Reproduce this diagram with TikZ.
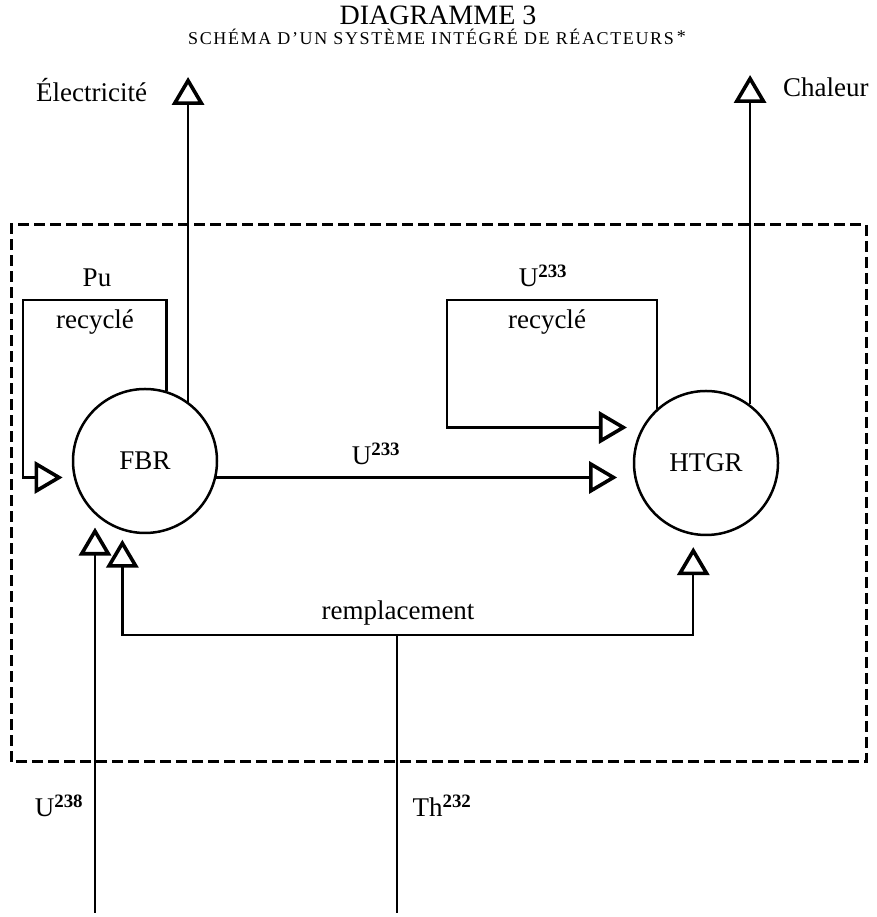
\documentclass[tikz,border=0pt]{standalone}
\usepackage{fontspec}
\setmainfont{Liberation Serif}
\usetikzlibrary{arrows.meta,positioning}

\begin{document}
\begin{tikzpicture}[x=1pt,y=1pt,line width=2.3pt,
 flow/.style={-{Triangle[open,length=28pt,width=32pt,line width=3.6pt]}},
 frame/.style={line width=3pt,dash pattern=on 11pt off 5pt},
 reactor/.style={circle,draw,line width=2.5pt,minimum size=144pt,inner sep=0pt,font=\fontsize{27}{30}\selectfont},
 lab/.style={font=\fontsize{27}{30}\selectfont,inner sep=0pt}]
\useasboundingbox (0,0) rectangle (876,917);
% titles
\node[anchor=base,font=\fontsize{28}{32}\selectfont] (title) at (438,892) {DIAGRAMME 3};
\node[anchor=base,font=\fontsize{18}{21}\selectfont] (subtitle) at (437,872)
 {\addfontfeatures{LetterSpace=9}SCHÉMA D’UN SYSTÈME INTÉGRÉ DE RÉACTEURS\,\raisebox{2pt}{*}};
% plant boundary
\draw[frame] (11,155) rectangle (866,692);
% reactors
\node[reactor] (FBR) at (145,456) {FBR};
\node[reactor] (HTGR) at (706,454) {HTGR};
% free ends
\coordinate (elecTip) at (188,840);
\coordinate (heatTip) at (750,842);
\coordinate (puCorner) at (23,617);
\coordinate (uCorner) at (447,617);
\coordinate (inU) at (95,4);
\coordinate (inTh) at (397,4);
\coordinate (repJ) at (397,282);
% flows
\draw[flow] (FBR.54) -- (FBR.54 |- elecTip);
\draw[flow] (HTGR.53) -- (HTGR.53 |- heatTip);
\draw[flow,shorten >=11pt] (FBR.73) |- (puCorner) |- (FBR.193);
\draw[flow,shorten >=15pt] (HTGR.132) |- (uCorner) |- (HTGR.151);
\draw[flow,shorten >=17pt] (FBR.-13) -- (FBR.-13 -| HTGR.191);
\draw[flow,shorten >=13pt] (inU) -- (inU |- FBR.227);
\draw (inTh) -- (repJ);
\draw[flow,shorten >=9pt] (repJ) -| (FBR.252);
\draw[flow,shorten >=12pt] (repJ) -| (HTGR.260);
% labels
\node[lab,anchor=base west] (elecLab) at (35,815) {Électricité};
\node[lab,anchor=base west] (heatLab) at (782,820) {Chaleur};
\node[lab,anchor=base] (puLab) at (97,630) {Pu};
\node[lab,anchor=base] (puRec) at (95,588) {recyclé};
\node[lab,anchor=base] (uLab) at (543,630) {U\textsuperscript{\bfseries 233}};
\node[lab,anchor=base] (uRec) at (547,588) {recyclé};
\node[lab,anchor=base] (uMid) at (376,452) {U\textsuperscript{\bfseries 233}};
\node[lab,anchor=base] (repLab) at (398,297) {remplacement};
\node[lab,anchor=base] (u238Lab) at (59,100) {U\textsuperscript{\bfseries 238}};
\node[lab,anchor=base] (thLab) at (442,100) {Th\textsuperscript{\bfseries 232}};
\end{tikzpicture}
\end{document}
